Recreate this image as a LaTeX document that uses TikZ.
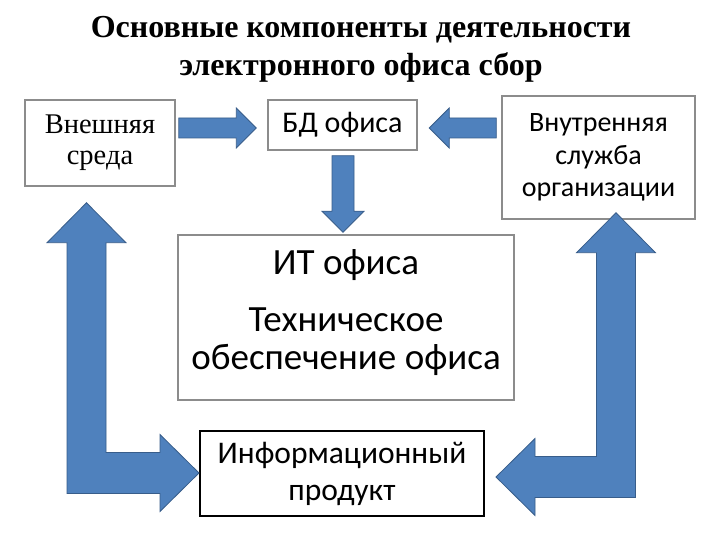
\documentclass[tikz,border=0pt]{standalone}
\usepackage{fontspec}
\setmainfont{Liberation Serif}
\newfontfamily\calibrifont{Carlito}
\usetikzlibrary{calc}
\definecolor{arrowblue}{HTML}{4F81BD}
\definecolor{arrowedge}{HTML}{385D8A}
\definecolor{boxgray}{HTML}{8C8C8C}
\tikzset{
  graybox/.style={draw=boxgray, line width=1.5pt, fill=white, inner sep=0pt, align=center},
  blackbox/.style={draw=black, line width=2pt, fill=white, inner sep=0pt, align=center},
  barrow/.style={fill=arrowblue, draw=arrowedge, line width=0.8pt, line join=miter}
}
% horizontal block arrow: tail, tip, direction (1 right, -1 left)
\newcommand\hblock[3]{%
  \draw[barrow] let \p1=(#1), \p2=(#2) in
    (\x1,\y2+10) -- (\x2-20*#3,\y2+10) -- (\x2-20*#3,\y2+20) -- (\p2) --
    (\x2-20*#3,\y2-20) -- (\x2-20*#3,\y2-10) -- (\x1,\y2-10) -- cycle;}
% L-shaped double block arrow: top tip, side tip, direction of side tip (1 right, -1 left)
\newcommand\lblock[3]{%
  \draw[barrow] let \p1=(#1), \p2=(#2) in
    (\p1) -- (\x1+39.5*#3,\y1-40) -- (\x1+19.5*#3,\y1-40) -- (\x1+19.5*#3,\y2+20.5) --
    (\x2-39*#3,\y2+20.5) -- (\x2-39*#3,\y2+38.5) -- (\p2) -- (\x2-39*#3,\y2-38.5) --
    (\x2-39*#3,\y2-20.5) -- (\x1-19.5*#3,\y2-20.5) -- (\x1-19.5*#3,\y1-40) --
    (\x1-39.5*#3,\y1-40) -- cycle;}
\begin{document}
\begin{tikzpicture}[x=1pt,y=1pt]
\useasboundingbox (0,0) rectangle (720,540);
\fill[white] (0,0) rectangle (720,540);

\node[font=\fontsize{32}{38}\selectfont\bfseries, align=center] (title) at (361,491)
  {Основные компоненты деятельности\\электронного офиса сбор};

\node[graybox, minimum width=150pt, minimum height=86pt,
      font=\fontsize{28.5}{31}\selectfont] (ext) at (100,397) {Внешняя\\среда};
\node[graybox, minimum width=149pt, minimum height=50pt,
      font=\calibrifont\fontsize{30}{30}\selectfont] (bd) at (342.5,415) {БД офиса};
\node[graybox, minimum width=193pt, minimum height=123pt,
      font=\calibrifont\fontsize{28}{32.5}\selectfont] (intr) at (598.5,382.5)
  {Внутренняя\\служба\\организации};
\node[graybox, minimum width=336pt, minimum height=165pt] (it) at (346,222.5) {};
\node[font=\calibrifont\fontsize{37}{38}\selectfont, align=center] (ittext) at ($(it.center)+(0,5)$)
  {ИТ офиса\\[19pt]Техническое\\обеспечение офиса};
\node[blackbox, minimum width=284pt, minimum height=85pt,
      font=\calibrifont\fontsize{31.5}{37}\selectfont] (info) at (342,66.5)
  {Информационный\\продукт};

% arrows
\coordinate (aTail) at ($(ext.east)+(3,15)$);
\coordinate (aTip)  at ($(bd.west)+(-11,-3)$);
\hblock{aTail}{aTip}{1}
\coordinate (bTail) at ($(intr.west)+(-5,29.5)$);
\coordinate (bTip)  at ($(bd.east)+(11.5,-3)$);
\hblock{bTail}{bTip}{-1}
\coordinate (cTail) at ($(bd.south)+(0.5,-5)$);
\coordinate (cTip)  at ($(it.north)+(-3,2)$);
\draw[barrow] let \p1=(cTail), \p2=(cTip) in
  (\x2-11,\y1) -- (\x2-11,\y2+21) -- (\x2-21,\y2+21) -- (\p2) --
  (\x2+21,\y2+21) -- (\x2+11,\y2+21) -- (\x2+11,\y1) -- cycle;
\coordinate (lTop)  at ($(ext.south)+(-13.5,-16)$);
\coordinate (lSide) at ($(info.west)+(0,0.5)$);
\lblock{lTop}{lSide}{1}
\coordinate (rTop)  at ($(intr.south)+(17.5,7)$);
\coordinate (rSide) at ($(info.east)+(11,-3.5)$);
\lblock{rTop}{rSide}{-1}
\end{tikzpicture}
\end{document}
